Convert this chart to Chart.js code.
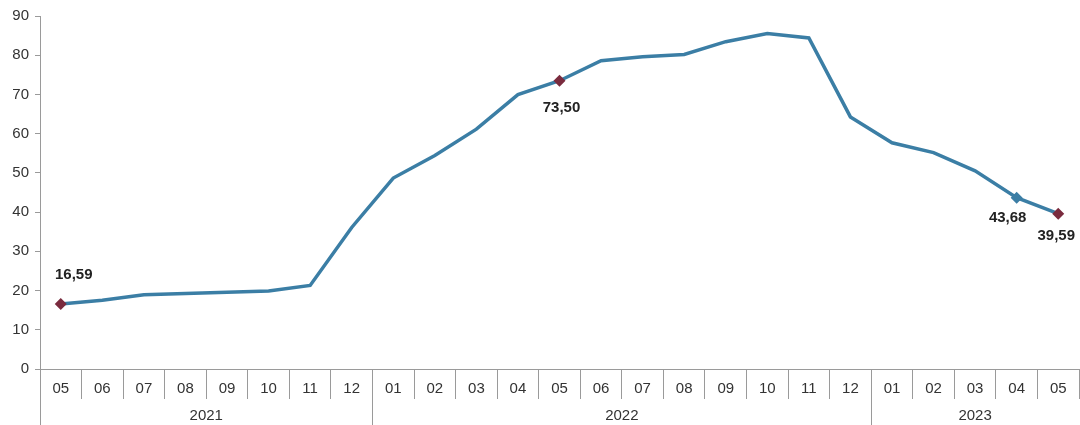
<!DOCTYPE html>
<html><head><meta charset="utf-8">
<script src="https://cdn.jsdelivr.net/npm/chart.js@4/dist/chart.umd.min.js"></script>
<style>html,body{margin:0;padding:0;background:#fff}#w{width:1080px;height:425px}</style>
</head><body><div id="w"><canvas id="c"></canvas></div>
<script>
const months = ["05","06","07","08","09","10","11","12","01","02","03","04","05","06","07","08","09","10","11","12","01","02","03","04","05"];
const years = ["2021","2022","2023"];
const yearSpans = [8, 12, 5];
const values = [16.59,17.53,18.95,19.25,19.58,19.89,21.31,36.08,48.69,54.44,61.14,69.97,73.50,78.62,79.60,80.21,83.45,85.51,84.39,64.27,57.68,55.18,50.51,43.68,39.59];
const labelled = {0:"16,59",12:"73,50",23:"43,68",24:"39,59"};
const labelOffsets = {0:[13,-29],12:[2,27],23:[-9,20],24:[-2,22]};
const lineColor = "#3b7ea5";
const markColor = "#7a2b3e";
const FONT = "'Liberation Sans', Arial, sans-serif";

const extras = {
  id:'extras',
  afterDraw(chart){
    const ctx = chart.ctx, xs = chart.scales.x, ys = chart.scales.y;
    const step = xs.getPixelForValue(1)-xs.getPixelForValue(0);
    const top = ys.bottom;
    ctx.save();
    ctx.strokeStyle = "#9a9a9a"; ctx.lineWidth = 1;
    let idx = 0;
    const bounds = [];
    for (let i=0;i<years.length;i++){
      const l = xs.getPixelForValue(idx)-step/2;
      const r = xs.getPixelForValue(idx+yearSpans[i]-1)+step/2;
      bounds.push([l,r]);
      idx += yearSpans[i];
    }
    bounds.forEach(([l,r],i)=>{
      ctx.beginPath(); ctx.moveTo(Math.round(l)+0.5, top); ctx.lineTo(Math.round(l)+0.5, 425); ctx.stroke();
      ctx.fillStyle="#333"; ctx.font="15px "+FONT;
      ctx.textAlign="center"; ctx.textBaseline="middle";
      ctx.fillText(years[i], (l+r)/2, 416);
    });
    const meta = chart.getDatasetMeta(0);
    ctx.font = "bold 15px "+FONT;
    ctx.fillStyle = "#222"; ctx.textAlign="center"; ctx.textBaseline="middle";
    Object.keys(labelled).forEach(k=>{
      const p = meta.data[k];
      const o = labelOffsets[k];
      ctx.fillText(labelled[k], p.x+o[0], p.y+o[1]);
    });
    ctx.restore();
  }
};

new Chart(document.getElementById('c'), {
  type:'line',
  data:{labels:months, datasets:[{
    data:values,
    borderColor:lineColor,
    borderWidth:3.5,
    tension:0,
    clip:false,
    pointStyle:'rectRot',
    pointRadius:values.map((v,i)=> (i in labelled)?6:0),
    pointBackgroundColor:values.map((v,i)=> i===23?lineColor:markColor),
    pointBorderColor:values.map((v,i)=> i===23?lineColor:markColor),
    pointBorderWidth:0,
  }]},
  options:{
    responsive:true, maintainAspectRatio:false, animation:false,
    layout:{autoPadding:false, padding:{left:0,right:1,top:16,bottom:0}},
    plugins:{legend:{display:false}, tooltip:{enabled:false}},
    scales:{
      x:{
        offset:true,
        grid:{offset:true, drawOnChartArea:false, drawTicks:true, tickLength:30, color:"#9a9a9a"},
        border:{display:true, color:"#9a9a9a"},
        ticks:{color:"#333", font:{size:15, family:FONT}, padding:-19, maxRotation:0, autoSkip:false},
        afterFit(s){ s.height = 56; s.paddingLeft = 0; s.paddingRight = 0; }
      },
      y:{
        min:0, max:90,
        ticks:{stepSize:10, color:"#333", font:{size:15, family:FONT}, padding:6},
        grid:{drawOnChartArea:false, tickLength:5, color:"#9a9a9a"},
        border:{display:true, color:"#9a9a9a"},
        afterFit(s){ s.width = 40; s.paddingTop = 0; s.paddingBottom = 0; }
      }
    }
  },
  plugins:[extras]
});
</script></body></html>
